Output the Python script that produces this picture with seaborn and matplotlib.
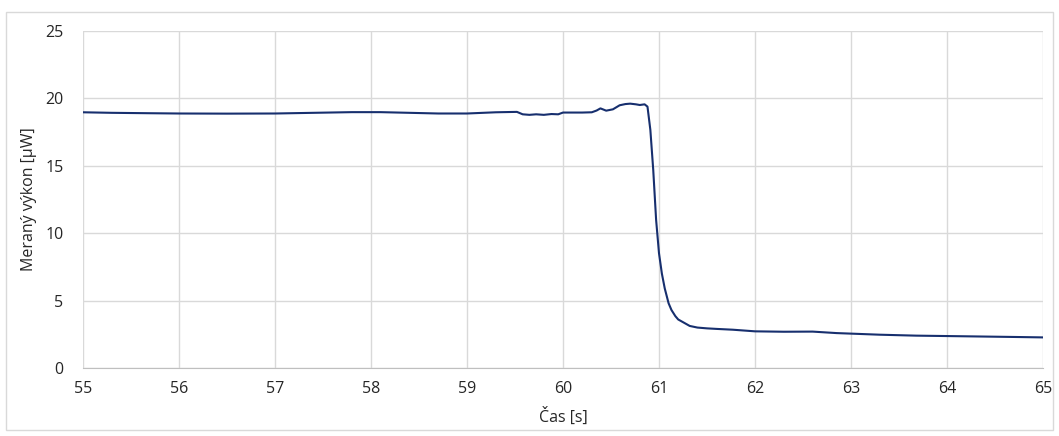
import numpy as np
import pandas as pd
import seaborn as sns
import matplotlib.pyplot as plt
from matplotlib.patches import Rectangle

# data
cas = [55.0, 55.3, 55.7, 56.0, 56.5, 57.0, 57.4, 57.8, 58.1, 58.4, 58.7, 59.0,
       59.3, 59.52, 59.58, 59.65, 59.72, 59.8, 59.88, 59.95, 60.0, 60.2, 60.3,
       60.35, 60.39, 60.45, 60.52, 60.59, 60.65, 60.70, 60.76, 60.80, 60.85,
       60.88, 60.91, 60.94, 60.97, 61.0, 61.03, 61.06, 61.1, 61.13, 61.17,
       61.2, 61.25, 61.32, 61.4, 61.5, 61.6, 61.77, 62.0, 62.3, 62.6, 62.85,
       63.0, 63.3, 63.68, 64.0, 64.31, 64.72, 65.0]
vykon = [18.97, 18.93, 18.90, 18.88, 18.87, 18.88, 18.93, 18.98, 18.98, 18.93,
         18.88, 18.88, 18.97, 19.0, 18.82, 18.78, 18.82, 18.78, 18.84, 18.82,
         18.95, 18.95, 18.97, 19.1, 19.26, 19.09, 19.19, 19.49, 19.58, 19.61,
         19.56, 19.51, 19.56, 19.39, 17.66, 14.69, 10.98, 8.51, 7.0, 5.9,
         4.80, 4.30, 3.85, 3.60, 3.40, 3.12, 3.00, 2.94, 2.90, 2.84, 2.72,
         2.69, 2.70, 2.59, 2.55, 2.47, 2.40, 2.37, 2.34, 2.30, 2.27]

df = pd.DataFrame({"cas": cas, "vykon": vykon})

sns.set_style("white")
plt.rcParams['font.family'] = ['Open Sans', 'DejaVu Sans']

fig = plt.figure(figsize=(10.59, 4.36), dpi=100)
ax = fig.add_axes([83 / 1059, 68 / 436, 960 / 1059, 337 / 436])

sns.lineplot(data=df, x="cas", y="vykon", ax=ax, color="#172f6e", linewidth=1.5)

ax.set_xlim(55, 65)
ax.set_ylim(0, 25)
ax.set_xticks(range(55, 66))
ax.set_yticks(range(0, 26, 5))
ax.grid(True, color="#d9d9d9", linewidth=1)
ax.tick_params(axis="both", length=0, labelsize=11.5, colors="#262626")
ax.tick_params(axis="x", pad=9)
ax.tick_params(axis="y", pad=14)
for s in ["top", "right", "left"]:
    ax.spines[s].set_visible(False)
ax.spines["bottom"].set_color("#bfbfbf")
ax.set_xlabel("Čas [s]", fontsize=11.5, color="#262626", labelpad=8)
ax.set_ylabel("Meraný výkon [µW]", fontsize=11.5, color="#262626", labelpad=6)

# outer chart frame
fig.patches.append(Rectangle((6 / 1059, 6 / 436), 1047 / 1059, 418 / 436,
                             transform=fig.transFigure, fill=False,
                             edgecolor="#d9d9d9", linewidth=1))

fig.savefig("out.png", dpi=100)
